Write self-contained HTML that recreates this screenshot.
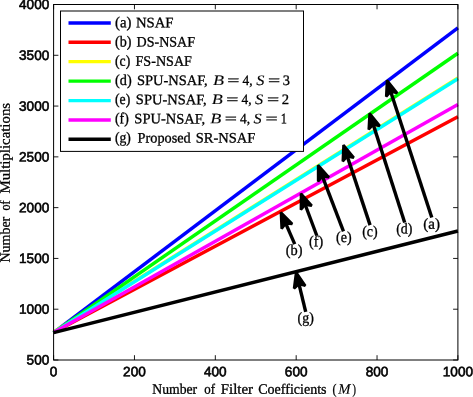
<!DOCTYPE html>
<html><head><meta charset="utf-8"><title>Number of Multiplications</title>
<style>
html,body{margin:0;padding:0;background:#fff;}
body{width:473px;height:397px;overflow:hidden;}
svg{display:block;}
.t{font-family:"Liberation Sans",Arial,Helvetica,sans-serif;font-size:13.6px;fill:#000;stroke:#000;stroke-width:0.6px;}
.s{font-family:"Liberation Serif","Times New Roman",serif;font-size:14.4px;fill:#000;stroke:#000;stroke-width:0.3px;}
.i{font-style:italic;stroke-width:0.1px;}
</style></head><body>
<svg width="473" height="397" viewBox="0 0 473 397">
<rect x="0" y="0" width="473" height="397" fill="#fff"/>

<g stroke="#000" stroke-width="0.9">
<line x1="53.60" y1="360.0" x2="53.60" y2="355.2"/><line x1="53.60" y1="4.5" x2="53.60" y2="9.3"/>
<line x1="134.46" y1="360.0" x2="134.46" y2="355.2"/><line x1="134.46" y1="4.5" x2="134.46" y2="9.3"/>
<line x1="215.32" y1="360.0" x2="215.32" y2="355.2"/><line x1="215.32" y1="4.5" x2="215.32" y2="9.3"/>
<line x1="296.18" y1="360.0" x2="296.18" y2="355.2"/><line x1="296.18" y1="4.5" x2="296.18" y2="9.3"/>
<line x1="377.04" y1="360.0" x2="377.04" y2="355.2"/><line x1="377.04" y1="4.5" x2="377.04" y2="9.3"/>
<line x1="457.90" y1="360.0" x2="457.90" y2="355.2"/><line x1="457.90" y1="4.5" x2="457.90" y2="9.3"/>
<line x1="53.6" y1="360.00" x2="58.4" y2="360.00"/><line x1="457.9" y1="360.00" x2="453.09999999999997" y2="360.00"/>
<line x1="53.6" y1="309.21" x2="58.4" y2="309.21"/><line x1="457.9" y1="309.21" x2="453.09999999999997" y2="309.21"/>
<line x1="53.6" y1="258.43" x2="58.4" y2="258.43"/><line x1="457.9" y1="258.43" x2="453.09999999999997" y2="258.43"/>
<line x1="53.6" y1="207.64" x2="58.4" y2="207.64"/><line x1="457.9" y1="207.64" x2="453.09999999999997" y2="207.64"/>
<line x1="53.6" y1="156.86" x2="58.4" y2="156.86"/><line x1="457.9" y1="156.86" x2="453.09999999999997" y2="156.86"/>
<line x1="53.6" y1="106.07" x2="58.4" y2="106.07"/><line x1="457.9" y1="106.07" x2="453.09999999999997" y2="106.07"/>
<line x1="53.6" y1="55.29" x2="58.4" y2="55.29"/><line x1="457.9" y1="55.29" x2="453.09999999999997" y2="55.29"/>
<line x1="53.6" y1="4.50" x2="58.4" y2="4.50"/><line x1="457.9" y1="4.50" x2="453.09999999999997" y2="4.50"/>
</g>
<g fill="none" stroke-width="3.5" stroke-linecap="butt">
<line x1="53.60" y1="332.58" x2="457.90" y2="27.86" stroke="#0000ff"/>
<line x1="53.60" y1="332.58" x2="457.90" y2="116.74" stroke="#ff0000"/>
<line x1="53.60" y1="332.03" x2="457.90" y2="78.10" stroke="#ffff00"/>
<line x1="53.60" y1="332.58" x2="457.90" y2="53.25" stroke="#00ff00"/>
<line x1="53.60" y1="332.58" x2="457.90" y2="78.85" stroke="#00ffff"/>
<line x1="53.60" y1="332.58" x2="457.90" y2="104.55" stroke="#ff00ff"/>
<line x1="53.60" y1="332.58" x2="457.90" y2="231.00" stroke="#000000"/>
</g>
<rect x="53.6" y="4.5" width="404.30" height="355.50" fill="none" stroke="#000" stroke-width="1"/>
<text class="t" transform="translate(53.60,376.3) rotate(0.04)" text-anchor="middle">0</text>
<text class="t" transform="translate(134.46,376.3) rotate(0.04)" text-anchor="middle">200</text>
<text class="t" transform="translate(215.32,376.3) rotate(0.04)" text-anchor="middle">400</text>
<text class="t" transform="translate(296.18,376.3) rotate(0.04)" text-anchor="middle">600</text>
<text class="t" transform="translate(377.04,376.3) rotate(0.04)" text-anchor="middle">800</text>
<text class="t" transform="translate(457.90,376.3) rotate(0.04)" text-anchor="middle">1000</text>
<text class="t" transform="translate(49.3,364.60) rotate(0.04)" text-anchor="end">500</text>
<text class="t" transform="translate(49.3,313.81) rotate(0.04)" text-anchor="end">1000</text>
<text class="t" transform="translate(49.3,263.03) rotate(0.04)" text-anchor="end">1500</text>
<text class="t" transform="translate(49.3,212.24) rotate(0.04)" text-anchor="end">2000</text>
<text class="t" transform="translate(49.3,161.46) rotate(0.04)" text-anchor="end">2500</text>
<text class="t" transform="translate(49.3,110.67) rotate(0.04)" text-anchor="end">3000</text>
<text class="t" transform="translate(49.3,59.89) rotate(0.04)" text-anchor="end">3500</text>
<text class="t" transform="translate(49.3,9.10) rotate(0.04)" text-anchor="end">4000</text>
<rect x="60.5" y="11.0" width="243" height="140.4" fill="#fff" stroke="#000" stroke-width="1"/>
<line x1="68.5" y1="23.05" x2="110.8" y2="23.05" stroke="#0000ff" stroke-width="3.4"/>
<line x1="68.5" y1="42.2" x2="110.8" y2="42.2" stroke="#ff0000" stroke-width="3.4"/>
<line x1="68.5" y1="61.65" x2="110.8" y2="61.65" stroke="#ffff00" stroke-width="3.4"/>
<line x1="68.5" y1="81.1" x2="110.8" y2="81.1" stroke="#00ff00" stroke-width="3.4"/>
<line x1="68.5" y1="100.6" x2="110.8" y2="100.6" stroke="#00ffff" stroke-width="3.4"/>
<line x1="68.5" y1="120.0" x2="110.8" y2="120.0" stroke="#ff00ff" stroke-width="3.4"/>
<line x1="68.5" y1="139.25" x2="110.8" y2="139.25" stroke="#000000" stroke-width="3.4"/>
<line x1="390.72" y1="91.71" x2="431.78" y2="217.46" stroke="#000" stroke-width="3.4"/>
<polygon points="387.00,80.30 386.20,96.55 390.72,91.71 397.23,92.95" fill="#000" stroke="#000" stroke-width="2.6" stroke-linejoin="bevel"/>
<line x1="373.26" y1="124.63" x2="404.67" y2="222.56" stroke="#000" stroke-width="3.4"/>
<polygon points="369.60,113.20 368.72,129.45 373.26,124.63 379.77,125.90" fill="#000" stroke="#000" stroke-width="2.6" stroke-linejoin="bevel"/>
<line x1="347.28" y1="156.39" x2="370.08" y2="225.15" stroke="#000" stroke-width="3.4"/>
<polygon points="343.50,145.00 342.78,161.25 347.28,156.39 353.79,157.60" fill="#000" stroke="#000" stroke-width="2.6" stroke-linejoin="bevel"/>
<line x1="322.40" y1="176.40" x2="343.49" y2="231.35" stroke="#000" stroke-width="3.4"/>
<polygon points="318.10,165.20 318.13,181.47 322.40,176.40 328.96,177.31" fill="#000" stroke="#000" stroke-width="2.6" stroke-linejoin="bevel"/>
<line x1="305.22" y1="204.73" x2="316.76" y2="235.50" stroke="#000" stroke-width="3.4"/>
<polygon points="301.00,193.50 300.91,209.77 305.22,204.73 311.77,205.69" fill="#000" stroke="#000" stroke-width="2.6" stroke-linejoin="bevel"/>
<line x1="285.69" y1="223.40" x2="294.74" y2="244.17" stroke="#000" stroke-width="3.4"/>
<polygon points="280.90,212.40 281.65,228.65 285.69,223.40 292.29,224.02" fill="#000" stroke="#000" stroke-width="2.6" stroke-linejoin="bevel"/>
<line x1="298.93" y1="283.96" x2="305.71" y2="311.97" stroke="#000" stroke-width="3.4"/>
<polygon points="296.10,272.30 294.04,288.44 298.93,283.96 305.32,285.71" fill="#000" stroke="#000" stroke-width="2.6" stroke-linejoin="bevel"/>
<text class="s" transform="translate(114.99,27.20) rotate(0.04) scale(1.0267,1.06)">(a)</text>
<text class="s" transform="translate(135.89,27.20) rotate(0.04) scale(1.0215,1)">NSAF</text>
<text class="s" transform="translate(115.01,46.43) rotate(0.04) scale(0.9778,1.06)">(b)</text>
<text class="s" transform="translate(136.51,46.43) rotate(0.04) scale(0.9752,1)">DS-NSAF</text>
<text class="s" transform="translate(115.02,65.66) rotate(0.04) scale(0.9533,1.06)">(c)</text>
<text class="s" transform="translate(135.50,65.66) rotate(0.04) scale(0.9807,1)">FS-NSAF</text>
<text class="s" transform="translate(115.00,84.89) rotate(0.04) scale(0.9905,1.06)">(d)</text>
<text class="s" transform="translate(136.97,84.89) rotate(0.04) scale(1.0051,1)">SPU-NSAF,</text>
<text class="s i" transform="translate(212.89,84.89) rotate(0.04) scale(1.2537,1)">B</text>
<text class="s" transform="translate(227.31,84.89) rotate(0.04) scale(1.5000,1)">=</text>
<text class="s" transform="translate(242.53,84.89) rotate(0.04) scale(0.9316,1)">4,</text>
<text class="s i" transform="translate(256.21,84.89) rotate(0.04) scale(1.1345,1)">S</text>
<text class="s" transform="translate(268.11,84.89) rotate(0.04) scale(1.5000,1)">=</text>
<text class="s" transform="translate(282.85,84.89) rotate(0.04) scale(0.9920,1)">3</text>
<text class="s" transform="translate(115.02,104.12) rotate(0.04) scale(0.9533,1.06)">(e)</text>
<text class="s" transform="translate(135.87,104.12) rotate(0.04) scale(1.0051,1)">SPU-NSAF,</text>
<text class="s i" transform="translate(211.79,104.12) rotate(0.04) scale(1.2537,1)">B</text>
<text class="s" transform="translate(226.21,104.12) rotate(0.04) scale(1.5000,1)">=</text>
<text class="s" transform="translate(241.43,104.12) rotate(0.04) scale(0.9316,1)">4,</text>
<text class="s i" transform="translate(255.11,104.12) rotate(0.04) scale(1.1345,1)">S</text>
<text class="s" transform="translate(267.01,104.12) rotate(0.04) scale(1.5000,1)">=</text>
<text class="s" transform="translate(281.84,104.12) rotate(0.04) scale(1.0167,1)">2</text>
<text class="s" transform="translate(115.02,123.35) rotate(0.04) scale(0.9570,1.06)">(f)</text>
<text class="s" transform="translate(134.37,123.35) rotate(0.04) scale(1.0051,1)">SPU-NSAF,</text>
<text class="s i" transform="translate(210.29,123.35) rotate(0.04) scale(1.2537,1)">B</text>
<text class="s" transform="translate(224.71,123.35) rotate(0.04) scale(1.5000,1)">=</text>
<text class="s" transform="translate(239.93,123.35) rotate(0.04) scale(0.9316,1)">4,</text>
<text class="s i" transform="translate(253.61,123.35) rotate(0.04) scale(1.1345,1)">S</text>
<text class="s" transform="translate(265.51,123.35) rotate(0.04) scale(1.5000,1)">=</text>
<text class="s" transform="translate(280.79,123.35) rotate(0.04) scale(0.8558,1)">1</text>
<text class="s" transform="translate(115.03,142.58) rotate(0.04) scale(0.9460,1.06)">(g)</text>
<text class="s" transform="translate(137.60,142.58) rotate(0.04) scale(0.9915,1)">Proposed</text>
<text class="s" transform="translate(195.77,142.58) rotate(0.04) scale(1.0069,1)">SR-NSAF</text>
<text class="s" transform="translate(152.31,393.80) rotate(0.04) scale(0.9511,1)">Number</text>
<text class="s" transform="translate(204.21,393.80) rotate(0.04) scale(0.8936,1)">of</text>
<text class="s" transform="translate(220.79,393.80) rotate(0.04) scale(1.0355,1)">Filter</text>
<text class="s" transform="translate(258.26,393.80) rotate(0.04) scale(0.9747,1)">Coefficients</text>
<text class="s" transform="translate(332.54,393.80) rotate(0.04) scale(0.8250,1)">(</text>
<text class="s i" transform="translate(338.20,393.80) rotate(0.04) scale(1.0154,1)">M</text>
<text class="s" transform="translate(352.38,393.80) rotate(0.04) scale(0.7226,1)">)</text>
<text class="s" transform="translate(9.70,262.49) rotate(-89.96) scale(0.9702,1)">Number</text>
<text class="s" transform="translate(9.70,210.57) rotate(-89.96) scale(0.8426,1)">of</text>
<text class="s" transform="translate(9.70,193.51) rotate(-89.96) scale(1.0300,1)">Multiplications</text>
<text class="s" transform="translate(423.23,228.80) rotate(0.04) scale(1.0467,1.06)">(a)</text>
<text class="s" transform="translate(396.22,233.60) rotate(0.04) scale(0.9651,1.06)">(d)</text>
<text class="s" transform="translate(362.21,236.30) rotate(0.04) scale(0.9733,1.06)">(c)</text>
<text class="s" transform="translate(336.11,242.00) rotate(0.04) scale(0.9733,1.06)">(e)</text>
<text class="s" transform="translate(309.06,246.30) rotate(0.04) scale(0.9794,1.06)">(f)</text>
<text class="s" transform="translate(285.85,255.10) rotate(0.04) scale(0.9968,1.06)">(b)</text>
<text class="s" transform="translate(297.62,322.70) rotate(0.04) scale(0.9651,1.06)">(g)</text>
</svg>
</body></html>
